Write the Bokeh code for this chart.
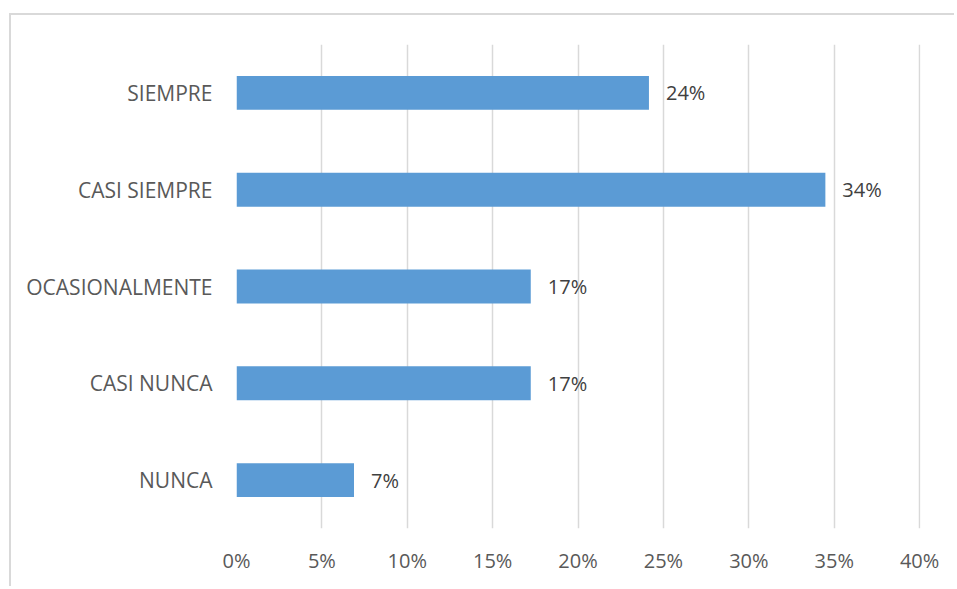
from bokeh.plotting import figure
from bokeh.models import Range1d, FixedTicker, PrintfTickFormatter, ColumnDataSource
from bokeh.core.properties import value
from bokeh.embed import file_html
from bokeh.resources import INLINE

categories = ["SIEMPRE", "CASI SIEMPRE", "OCASIONALMENTE", "CASI NUNCA", "NUNCA"]
percentages = [24.15, 34.48, 17.23, 17.23, 6.88]
x_ticks = [0, 5, 10, 15, 20, 25, 30, 35, 40]
labels = [f"{round(v)}%" for v in percentages]

FONT = "Open Sans"

src = ColumnDataSource(dict(cat=categories, val=percentages, lab=labels))

# canvas starts at page (11, 15) because of the margin + border below
p = figure(width=945, height=573, output_backend="svg", toolbar_location=None,
           y_range=list(reversed(categories)), x_range=Range1d(0, 40.05),
           min_border_left=225, min_border_right=36, min_border_top=29, min_border_bottom=60)

p.styles = {"margin-left": "9px", "margin-top": "13px",
            "border-left": "2px solid #d9d9d9", "border-top": "2px solid #d9d9d9"}

p.hbar(y="cat", right="val", left=0, height=0.35, source=src,
       fill_color="#5b9bd5", line_color=None)

p.text(x="val", y="cat", text="lab", source=src, x_offset=17,
       text_align="left", text_baseline="middle",
       text_font=value(FONT), text_font_size="20px", text_color="#404040")

p.outline_line_color = None
p.background_fill_color = "white"
p.border_fill_color = "white"

p.xaxis.ticker = FixedTicker(ticks=x_ticks)
p.xaxis.formatter = PrintfTickFormatter(format="%d%%")
for ax in (p.xaxis[0], p.yaxis[0]):
    ax.axis_line_color = None
    ax.major_tick_line_color = None
    ax.minor_tick_line_color = None
    ax.major_label_text_font = FONT
    ax.major_label_text_color = "#595959"
p.xaxis.major_label_text_font_size = "20px"
p.yaxis.major_label_text_font_size = "21px"
p.xaxis.major_label_standoff = 12
p.yaxis.major_label_standoff = 18

p.xgrid.grid_line_color = "#d9d9d9"
p.xgrid.grid_line_width = 1.5
p.ygrid.grid_line_color = None

open("out.html", "w").write(file_html(p, INLINE))
